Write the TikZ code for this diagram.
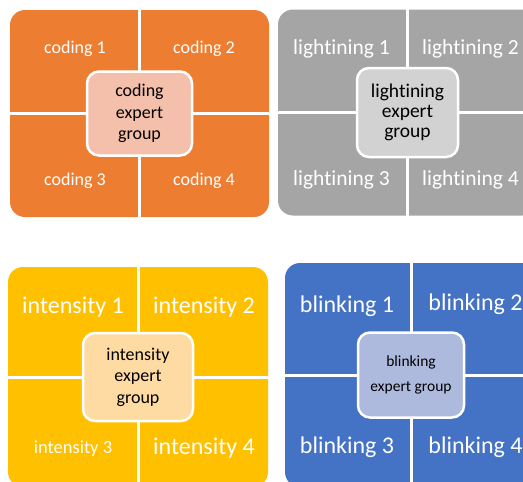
\documentclass[tikz,border=0pt]{standalone}
\usepackage{fontspec}
\setmainfont[Ligatures=NoCommon]{Carlito}

\definecolor{codfill}{RGB}{237,125,49}
\definecolor{codhub}{RGB}{244,191,171}
\definecolor{ligfill}{RGB}{165,165,165}
\definecolor{lighub}{RGB}{210,210,210}
\definecolor{intfill}{RGB}{255,192,0}
\definecolor{inthub}{RGB}{255,219,164}
\definecolor{blifill}{RGB}{68,114,196}
\definecolor{blihub}{RGB}{173,186,222}

\begin{document}
\begin{tikzpicture}
      [%%%%%%%%%%%%%%%%%%%%%%%%%%%%%%
          x=1pt, y=-1pt,
          grp/.style={rectangle, rounded corners=15pt, inner sep=0pt},
          split/.style={white, line width=3pt},
          hub/.style={rectangle, rounded corners=12pt, draw=white, line width=2.5pt,
                      text=black, align=center, inner sep=0pt},
          lbl/.style={text=white, inner sep=0pt}
      ]%%%%%%%%%%%%%%%%%%%%%%%%%%%%%%

  \useasboundingbox (0,0) rectangle (523,482);
  \clip (0,0) rectangle (523,482);

  % coding
  \node[grp, fill=codfill, minimum width=259pt, minimum height=207pt] (cod) at (139.5,113.5) {};
  \draw[split] (cod.north) -- (cod.south);
  \draw[split] (cod.west) -- (cod.east);
  \node[hub, fill=codhub, minimum width=105pt, minimum height=84pt,
        font={\fontsize{18}{21.5}\selectfont}] (codhub) at (cod.center) {coding\\expert\\group};
  \foreach \n/\x/\y in {1/75/49, 2/204/49, 3/75/181, 4/204/181}
      \node[lbl, font={\fontsize{18}{22}\selectfont}] (cod\n) at (\x,\y) {coding \n};

  % lightining
  \node[grp, fill=ligfill, minimum width=259pt, minimum height=206pt] (lig) at (407.5,112.5) {};
  \draw[split] (lig.north) -- (lig.south);
  \draw[split] (lig.west) -- (lig.east);
  \node[hub, fill=lighub, minimum width=101pt, minimum height=89pt,
        font={\fontsize{19.5}{20}\selectfont}] (lighub) at (lig.center) {lightining\\expert\\group};
  \foreach \n/\x/\y in {1/341.5/49, 2/470.5/49, 3/341.5/180, 4/470.5/180}
      \node[lbl, font={\fontsize{21.5}{26}\selectfont}] (lig\n) at (\x,\y) {lightining \n};

  % intensity
  \node[grp, fill=intfill, minimum width=260pt, minimum height=220pt] (int) at (138,377) {};
  \draw[split] (int.north) -- (int.south);
  \draw[split] (int.west) -- (int.east);
  \node[hub, fill=inthub, minimum width=110pt, minimum height=88pt,
        font={\fontsize{18}{21.5}\selectfont}] (inthub) at (int.center) {intensity\\expert\\group};
  \foreach \n/\x/\y in {1/73/307.5, 2/204/307.5, 4/204/448.5}
      \node[lbl, font={\fontsize{24}{29}\selectfont}] (int\n) at (\x,\y) {intensity \n};
  \node[lbl, font={\fontsize{18.5}{22}\selectfont}] (int3) at (73,448.5) {intensity 3};

  % blinking
  \node[grp, fill=blifill, minimum width=252pt, minimum height=224pt] (bli) at (411,375) {};
  \draw[split] (bli.north) -- (bli.south);
  \draw[split] (bli.west) -- (bli.east);
  \node[hub, fill=blihub, minimum width=106pt, minimum height=85pt,
        font={\fontsize{15.5}{25}\selectfont}] (blihub) at (bli.center) {blinking\\expert group};
  \foreach \n/\x/\y in {1/347/306, 2/475.5/304, 3/347/447.5, 4/475.5/447.5}
      \node[lbl, font={\fontsize{24}{29}\selectfont}] (bli\n) at (\x,\y) {blinking \n};

  \end{tikzpicture}
\end{document}
